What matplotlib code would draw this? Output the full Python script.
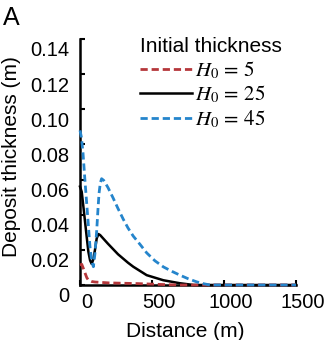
import matplotlib
matplotlib.use("Agg")
import matplotlib.pyplot as plt
from matplotlib.transforms import ScaledTranslation

plt.rcParams['font.family'] = ['Liberation Sans', 'DejaVu Sans']
plt.rcParams['mathtext.fontset'] = 'stix'

# ---- data ----
x_h5 = [0, 12, 23, 35, 47, 58, 80, 104, 200, 300, 400, 500, 600, 700, 1500]
y_h5 = [0.0114, 0.0118, 0.0095, 0.0068, 0.0042, 0.0028, 0.0020, 0.0017,
        0.0012, 0.0010, 0.0008, 0.0005, 0.0002, 0.0, 0.0]

x_h25 = [0, 12, 23, 35, 47, 58, 70, 81, 92, 104, 116, 128, 140, 194, 264,
         333, 370, 463, 579, 694, 790, 1500]
y_h25 = [0.056, 0.053, 0.045, 0.036, 0.027, 0.019, 0.014, 0.0120, 0.0145,
         0.020, 0.0265, 0.0290, 0.0284, 0.0235, 0.0175, 0.0127, 0.0104, 0.0056,
         0.0027, 0.0010, 0.0, 0.0]

x_h45 = [0, 10, 21, 33, 46, 58, 69, 81, 93, 104, 116, 124, 132, 141, 150,
         165, 194, 230, 264, 300, 333, 370, 420, 463, 520, 579, 640, 694,
         750, 810, 860, 903, 1500]
y_h45 = [0.088, 0.084, 0.075, 0.061, 0.047, 0.034, 0.022, 0.0135, 0.0104,
         0.018, 0.031, 0.042, 0.052, 0.058, 0.0605, 0.0595, 0.0555, 0.0495,
         0.0435, 0.0375, 0.0325, 0.0278, 0.0228, 0.0183, 0.0138, 0.0103, 0.0077,
         0.0056, 0.0036, 0.0018, 0.0007, 0.0, 0.0]

labels = [r'$H_0\,=\,5$', r'$H_0\,=\,25$', r'$H_0\,=\,45$']
xticks = [0, 500, 1000, 1500]
xtick_labels = ['0', '500', '1000', '1500']
yticks = [0, 0.02, 0.04, 0.06, 0.08, 0.10, 0.12, 0.14]
ytick_labels = ['0', '0.02', '0.04', '0.06', '0.08', '0.10', '0.12', '0.14']

W, H = 329, 340
fig = plt.figure(figsize=(W / 100, H / 100), dpi=100)
ax = fig.add_axes([80 / W, 1 - 285 / H, 216 / W, 246 / H])

red = '#b5373b'
blue = '#2585cc'
ax.plot(x_h25, y_h25, color='black', lw=1.8, label=labels[1], clip_on=False, zorder=3)
ax.plot(x_h5, y_h5, color=red, lw=2.0, ls=(0, (2.6, 1.4)), label=labels[0], clip_on=False, zorder=4)
ax.plot(x_h45, y_h45, color=blue, lw=2.0, ls=(0, (2.6, 1.4)), label=labels[2], clip_on=False, zorder=5)

ax.set_xlim(0, 1500)
ax.set_ylim(0, 0.14)
ax.set_xticks(xticks)
ax.set_xticklabels(xtick_labels)
ax.set_yticks(yticks)
ax.set_yticklabels(ytick_labels)

for s in ['top', 'right']:
    ax.spines[s].set_visible(False)
for s in ['left', 'bottom']:
    ax.spines[s].set_linewidth(1.8)
    ax.spines[s].set_color('black')

ax.tick_params(axis='both', direction='in', length=3.5, width=1.5, labelsize=14.5, colors='black')
ax.tick_params(axis='x', pad=6)
ax.tick_params(axis='y', pad=8)

for lab in ax.get_xticklabels():
    lab.set_transform(lab.get_transform() + ScaledTranslation(7 / 100, 0, fig.dpi_scale_trans))
for lab in ax.get_yticklabels():
    lab.set_transform(lab.get_transform() + ScaledTranslation(0, -10 / 100, fig.dpi_scale_trans))

fig.text(185 / W, 1 - 337 / H, 'Distance (m)', ha='center', va='baseline', fontsize=15)
fig.text(12 / W, 1 - 157 / H, 'Deposit thickness (m)', ha='center', va='center',
         rotation=90, fontsize=15)
fig.text(3 / W, 1 - 25 / H, 'A', ha='left', va='baseline', fontsize=18)

handles, labs = ax.get_legend_handles_labels()
order = [1, 0, 2]
leg = ax.legend([handles[i] for i in order], [labs[i] for i in order],
                title='Initial thickness', title_fontsize=15,
                loc='upper left', bbox_to_anchor=(140 / W, 1 - 37 / H),
                bbox_transform=fig.transFigure, frameon=False, fontsize=15,
                handlelength=2.5, handletextpad=0.15, labelspacing=0.14,
                borderpad=0, borderaxespad=0, alignment='left')

fig.savefig('out.png', dpi=100)
